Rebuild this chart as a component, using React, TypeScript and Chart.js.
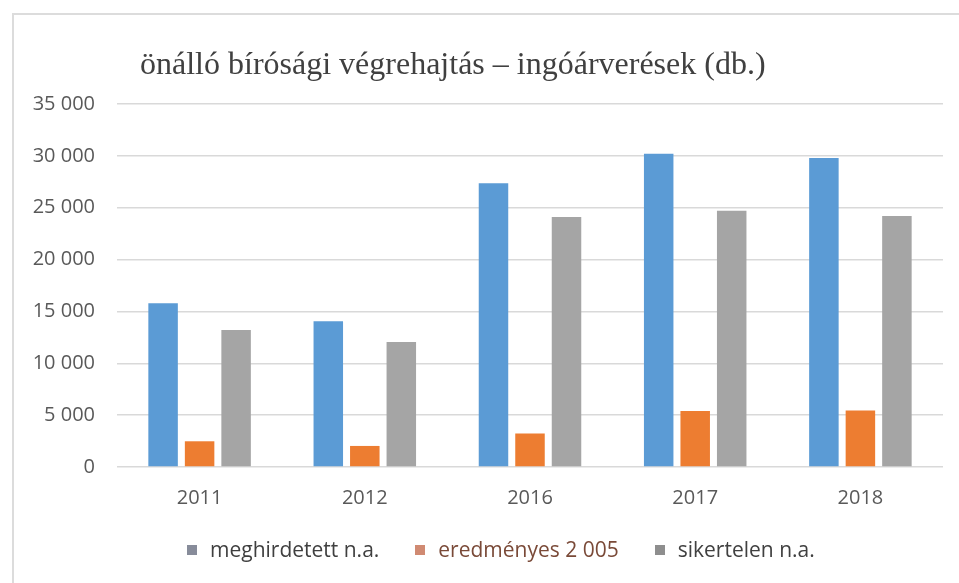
import React, { useEffect, useRef } from "react";
import { Chart, registerables } from "chart.js";

Chart.register(...registerables);

const TITLE = "önálló bírósági végrehajtás – ingóárverések (db.)";
const categories = ["2011", "2012", "2016", "2017", "2018"];
const meghirdetett = [15800, 14050, 27350, 30200, 29800];
const eredmenyes = [2480, 2030, 3220, 5400, 5450];
const sikertelen = [13200, 12050, 24100, 24700, 24200];
const seriesLabels = ["meghirdetett n.a.", "eredményes 2 005", "sikertelen n.a."];
const seriesColors = ["#5b9bd5", "#ed7d31", "#a5a5a5"];
const legendSwatches = ["#878c9a", "#d08a72", "#8e8e8e"];
const legendTextColors = ["#3f3f3f", "#7a4a38", "#404040"];
const yMin = 0;
const yMax = 35000;
const yStep = 5000;

const fmt = (v: number) => String(v).replace(/\B(?=(\d{3})+(?!\d))/g, " ");

export default function App() {
  const ref = useRef<HTMLCanvasElement | null>(null);

  useEffect(() => {
    if (!ref.current) return;
    const seriesValues = [meghirdetett, eredmenyes, sikertelen];
    const chart = new Chart(ref.current, {
      type: "bar",
      data: {
        labels: categories,
        datasets: seriesLabels.map((label, i) => ({
          label,
          data: seriesValues[i],
          backgroundColor: seriesColors[i],
          borderWidth: 0,
          categoryPercentage: 0.663,
          barPercentage: 0.808,
        })),
      },
      options: {
        responsive: false,
        animation: false,
        layout: { padding: { top: 104, right: 16, left: 0, bottom: 0 } },
        plugins: {
          legend: { display: false },
          title: { display: false },
          tooltip: { enabled: false },
        },
        scales: {
          x: {
            grid: { display: false, drawTicks: false },
            border: { display: false },
            ticks: {
              color: "#595959",
              font: { family: "'Open Sans'", size: 20 },
              padding: 19,
            },
            afterFit: (s: any) => {
              s.height = 116;
            },
          },
          y: {
            min: yMin,
            max: yMax,
            grid: { color: "#d9d9d9", lineWidth: 1.5, drawTicks: false },
            border: { display: false },
            ticks: {
              stepSize: yStep,
              color: "#595959",
              font: { family: "'Open Sans'", size: 20 },
              padding: 22,
              callback: (v: any) => fmt(Number(v)),
            },
            afterFit: (s: any) => {
              s.width = 117;
            },
          },
        },
      },
    });
    return () => chart.destroy();
  }, []);

  return (
    <div
      style={{
        position: "fixed",
        left: 0,
        top: 0,
        width: 959,
        height: 583,
        background: "#ffffff",
        overflow: "hidden",
      }}
    >
      <div
        style={{
          position: "absolute",
          left: 12,
          top: 13,
          width: 959,
          height: 583,
          borderLeft: "2px solid #dcdcdc",
          borderTop: "2px solid #dcdcdc",
        }}
      />
      <canvas
        ref={ref}
        width={959}
        height={583}
        style={{ position: "absolute", left: 0, top: 0, width: 959, height: 583 }}
      />
      <div
        style={{
          position: "absolute",
          left: 140,
          top: 47,
          fontFamily: "'Liberation Serif', serif",
          fontSize: 32,
          lineHeight: "32px",
          color: "#404040",
          whiteSpace: "nowrap",
        }}
      >
        {TITLE}
      </div>
      <div
        style={{
          position: "absolute",
          left: 187,
          top: 539,
          display: "flex",
          alignItems: "center",
          fontFamily: "'Open Sans', sans-serif",
          fontSize: 21,
          lineHeight: "21px",
          whiteSpace: "nowrap",
        }}
      >
        {seriesLabels.map((label, i) => (
          <div
            key={label}
            style={{ display: "flex", alignItems: "center", marginRight: 36 }}
          >
            <span
              style={{
                display: "inline-block",
                width: 10,
                height: 10,
                background: legendSwatches[i],
                marginRight: 13,
              }}
            />
            <span style={{ color: legendTextColors[i] }}>{label}</span>
          </div>
        ))}
      </div>
    </div>
  );
}
